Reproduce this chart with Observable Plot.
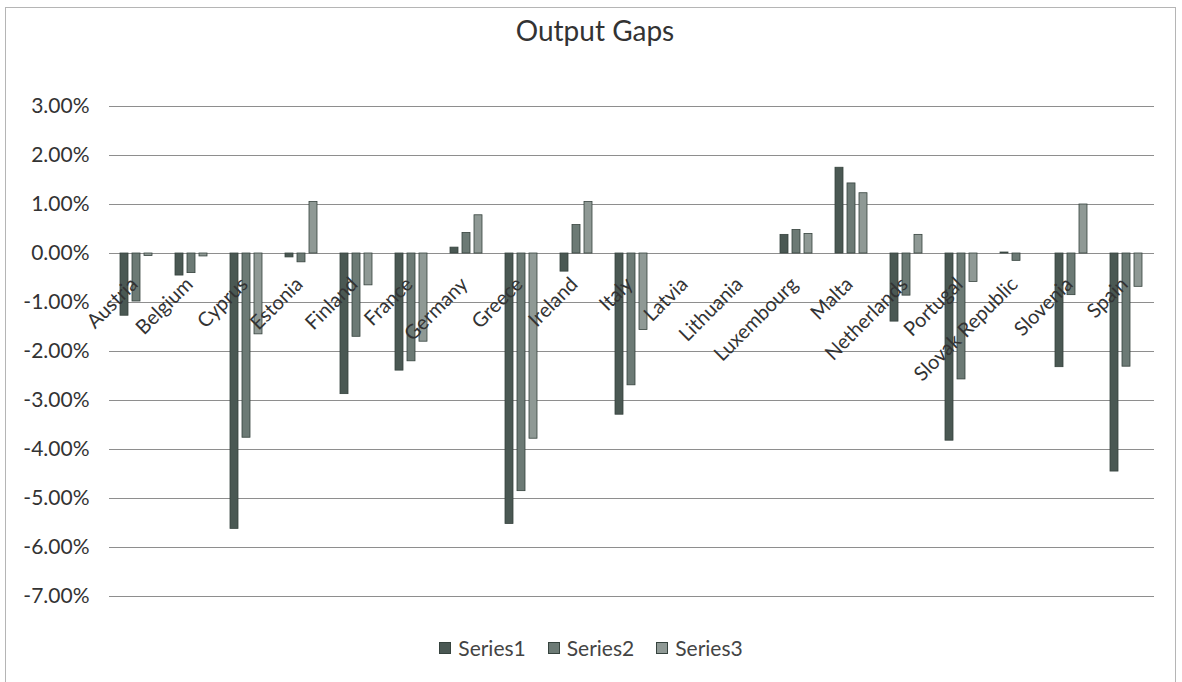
<!DOCTYPE html>
<html>
<head>
<meta charset="utf-8">
<script src="https://cdn.jsdelivr.net/npm/d3@7"></script>
<script src="https://cdn.jsdelivr.net/npm/@observablehq/plot@0.6"></script>
<style>
  html, body { margin: 0; padding: 0; background: #fff; width: 1182px; height: 682px; overflow: hidden; }
  #frame { position: absolute; left: 5px; top: 7px; width: 1171px; height: 700px; border: 1px solid #b5b5b5; box-sizing: border-box; }
  #title { position: absolute; left: 4px; width: 1182px; top: 12px; text-align: center; font-family: Lato, sans-serif; font-size: 28px; color: #333; line-height: 36px; }
  #chart { position: absolute; left: 0; top: 60px; }
  #legend { position: absolute; left: 0; width: 1182px; top: 635px; display: flex; justify-content: center; align-items: center; font-family: Lato, sans-serif; font-size: 21px; color: #444; }
  #legend .item { display: flex; align-items: center; margin: 0 11px; }
  #legend svg { display: block; margin-right: 7px; flex: none; }
</style>
</head>
<body>
<div id="frame"></div>
<div id="title">Output Gaps</div>
<div id="chart"></div>
<div id="legend"></div>
<script>
const countries = ["Austria","Belgium","Cyprus","Estonia","Finland","France","Germany","Greece","Ireland","Italy","Latvia","Lithuania","Luxembourg","Malta","Netherlands","Portugal","Slovak Republic","Slovenia","Spain"];
const series1 = [-1.27,-0.45,-5.62,-0.08,-2.87,-2.39,0.12,-5.52,-0.37,-3.29,0,0,0.38,1.75,-1.39,-3.82,0.02,-2.32,-4.45];
const series2 = [-0.98,-0.40,-3.76,-0.18,-1.70,-2.20,0.42,-4.85,0.58,-2.69,0,0,0.48,1.43,-0.86,-2.57,-0.15,-0.85,-2.31];
const series3 = [-0.05,-0.06,-1.65,1.05,-0.65,-1.80,0.78,-3.78,1.05,-1.56,0,0,0.40,1.23,0.38,-0.58,0,1.00,-0.68];
const seriesNames = ["Series1","Series2","Series3"];
const seriesColors = ["#4a5853","#6c7a75","#8f9995"];
const yTicks = [3,2,1,0,-1,-2,-3,-4,-5,-6,-7];

const allSeries = [series1, series2, series3];
const rows = [];
countries.forEach((c, i) => {
  seriesNames.forEach((s, j) => {
    const v = allSeries[j][i];
    if (v !== 0) rows.push({country: c, series: s, value: v});
  });
});

const plot = Plot.plot({
  width: 1182,
  height: 580,
  marginLeft: 108,
  marginRight: 27,
  marginTop: 46,
  marginBottom: 44,
  style: {fontFamily: "Lato, sans-serif", fontSize: "20px", color: "#404040", background: "transparent"},
  fx: {domain: countries, axis: null, paddingInner: 0, paddingOuter: 0},
  x: {domain: seriesNames, axis: null, paddingInner: 0.33, paddingOuter: 0.9},
  y: {domain: [-7, 3], axis: null},
  color: {domain: seriesNames, range: seriesColors},
  marks: [
    Plot.gridY(yTicks, {stroke: "#8e8e8e", strokeOpacity: 1, strokeWidth: 1}),
    Plot.axisY(yTicks, {label: null, tickSize: 0, tickPadding: 20, tickFormat: d => d.toFixed(2) + "%", fontSize: 21, fill: "#333"}),
    Plot.rectY(rows, {fx: "country", x: "series", y1: 0, y2: "value", fill: "series", stroke: "#36433e", strokeWidth: 0.8}),
    Plot.text(countries, {fx: d => d, y: d => 0, text: d => d, rotate: -45, textAnchor: "end", lineAnchor: "top", dx: -8, dy: 22, fontSize: 20, fill: "#333"})
  ]
});
document.getElementById("chart").appendChild(plot);

const legend = document.getElementById("legend");
seriesNames.forEach((s, j) => {
  const item = document.createElement("div");
  item.className = "item";
  const svgNS = "http://www.w3.org/2000/svg";
  const sw = document.createElementNS(svgNS, "svg");
  sw.setAttribute("width", "12");
  sw.setAttribute("height", "12");
  const r = document.createElementNS(svgNS, "rect");
  r.setAttribute("x", "0.5");
  r.setAttribute("y", "0.5");
  r.setAttribute("width", "11");
  r.setAttribute("height", "11");
  r.setAttribute("fill", seriesColors[j]);
  r.setAttribute("stroke", "#36433e");
  r.setAttribute("stroke-width", "1");
  sw.appendChild(r);
  const t = document.createElement("span");
  t.textContent = s;
  item.appendChild(sw);
  item.appendChild(t);
  legend.appendChild(item);
});
</script>
</body>
</html>
